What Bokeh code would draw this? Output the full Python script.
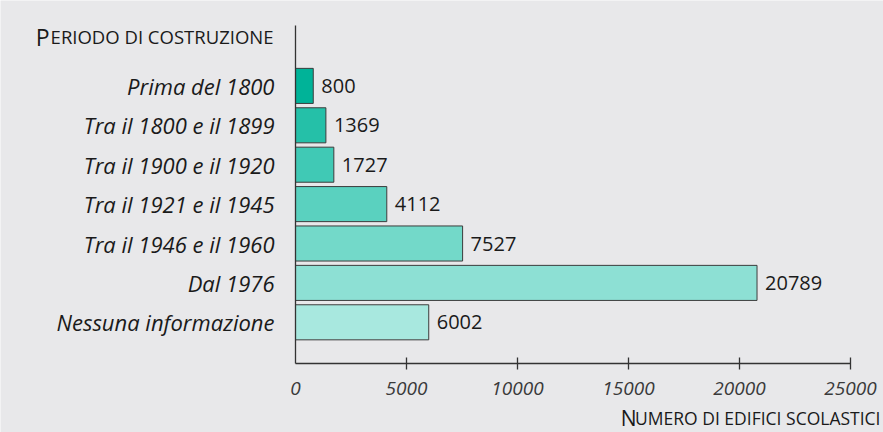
from bokeh.plotting import figure
from bokeh.models import Range1d, FixedTicker, Label, ColumnDataSource
from bokeh.core.properties import value
from bokeh.embed import file_html
from bokeh.resources import INLINE

# ---- data ----
categories = ["Prima del 1800", "Tra il 1800 e il 1899", "Tra il 1900 e il 1920",
              "Tra il 1921 e il 1945", "Tra il 1946 e il 1960", "Dal 1976",
              "Nessuna informazione"]
counts = [800, 1369, 1727, 4112, 7527, 20789, 6002]
bar_colors = ["#00B398", "#25C0A8", "#40C9B5", "#5AD1BF", "#73D9C9", "#8DE0D4", "#A8E8DF"]
x_ticks = [0, 5000, 10000, 15000, 20000, 25000]
y_title = "Periodo di costruzione"
x_title = "Numero di edifici scolastici"

BG = "#e8e8ea"
FONT = "Open Sans"
W, H = 883, 432

# ---- layout (pixels) ----
AX_LEFT, AX_RIGHT = 295.0, 850.0      # x = 0 and x = 25000
AX_TOP, AX_BOTTOM = 25.0, 363.0       # y axis top, x axis line
ROW0, ROW_STEP = 85.4, 39.4           # centre of first bar, spacing

x_max = x_ticks[-1]
px_per_x = (AX_RIGHT - AX_LEFT) / x_max
x_start = -AX_LEFT / px_per_x
x_end = x_max + (W - AX_RIGHT) / px_per_x


def row_at(py):
    return (py - ROW0) / ROW_STEP


positions = list(range(len(categories)))
src = ColumnDataSource(dict(
    y=positions,
    count=counts,
    color=bar_colors,
    label=[str(c) for c in counts],
))

p = figure(width=W, height=H, output_backend="svg", toolbar_location=None,
           x_range=Range1d(x_start, x_end), y_range=Range1d(row_at(H), row_at(0)),
           min_border=0, min_border_left=0, min_border_right=0,
           min_border_top=0, min_border_bottom=0,
           background_fill_color=BG, border_fill_color=BG,
           outline_line_color=None)
p.grid.visible = False

p.hbar(y="y", left=0, right="count", height=0.89, fill_color="color",
       line_color="#3c3c3c", line_width=1, source=src)

p.text(x="count", y="y", text="label", x_offset=8, text_baseline="middle",
       text_align="left", text_font=value(FONT), text_font_size="20px",
       text_color="#1a1a1a", source=src)

xa = p.xaxis[0]
xa.fixed_location = row_at(AX_BOTTOM)
xa.bounds = (0, x_max)
xa.ticker = FixedTicker(ticks=x_ticks, minor_ticks=x_ticks[1:])
xa.major_label_overrides = {t: str(t) for t in x_ticks}
xa.major_tick_in = 0
xa.major_tick_out = 0
xa.minor_tick_in = 6
xa.minor_tick_out = 6
xa.minor_tick_line_color = "#333333"
xa.minor_tick_line_width = 1.3
xa.axis_line_color = "#333333"
xa.axis_line_width = 1.3
xa.major_label_text_font = FONT
xa.major_label_text_font_style = "italic"
xa.major_label_text_font_size = "19px"
xa.major_label_text_color = "#3a3a3a"
xa.major_label_standoff = 12

ya = p.yaxis[0]
ya.fixed_location = 0
ya.bounds = (row_at(AX_BOTTOM), row_at(AX_TOP))
ya.ticker = FixedTicker(ticks=positions)
ya.major_label_overrides = {i: c for i, c in zip(positions, categories)}
ya.major_tick_in = 0
ya.major_tick_out = 0
ya.minor_tick_in = 0
ya.minor_tick_out = 0
ya.axis_line_color = "#333333"
ya.axis_line_width = 1.3
ya.major_label_text_font = FONT
ya.major_label_text_font_style = "italic"
ya.major_label_text_font_size = "22px"
ya.major_label_text_color = "#1a1a1a"
ya.major_label_standoff = 21

# small-caps style titles (first letter large, rest small capitals)
BASE_FIX = 7  # label baseline correction
title_small_w = 224
ty = H - 43.3 + BASE_FIX
p.add_layout(Label(x=273, y=ty, x_units="screen", y_units="screen",
                   text=y_title[1:].upper(), text_align="right",
                   text_baseline="alphabetic", text_font=FONT,
                   text_font_size="18.5px", text_color="#1a1a1a"))
p.add_layout(Label(x=273 - title_small_w, y=ty, x_units="screen",
                   y_units="screen", text=y_title[0].upper(), text_align="right",
                   text_baseline="alphabetic", text_font=FONT,
                   text_font_size="23px", text_color="#1a1a1a"))

xt_small_w = 244
xy = H - 424.0 + BASE_FIX
p.add_layout(Label(x=880, y=xy, x_units="screen", y_units="screen",
                   text=x_title[1:].upper(), text_align="right",
                   text_baseline="alphabetic", text_font=FONT,
                   text_font_size="17.5px", text_color="#1a1a1a"))
p.add_layout(Label(x=880 - xt_small_w, y=xy, x_units="screen",
                   y_units="screen", text=x_title[0].upper(), text_align="right",
                   text_baseline="alphabetic", text_font=FONT,
                   text_font_size="21px", text_color="#1a1a1a"))

open("out.html", "w").write(file_html(p, INLINE))
